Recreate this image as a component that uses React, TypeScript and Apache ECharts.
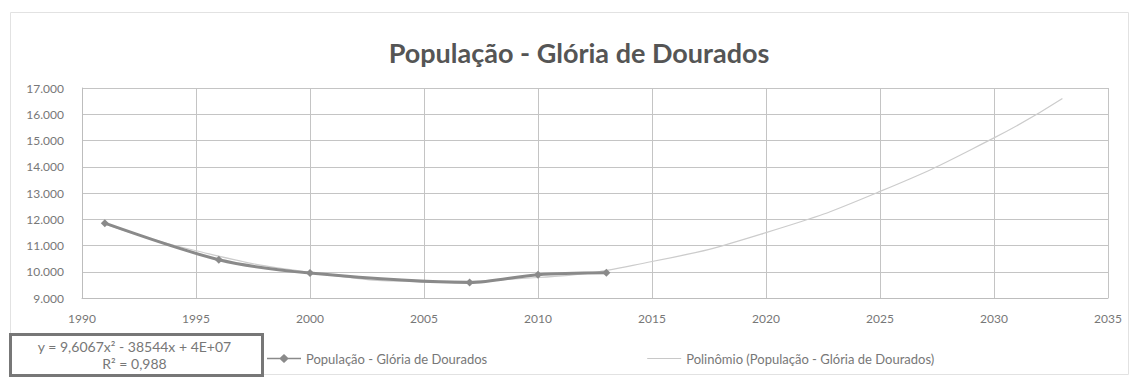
import React, { useEffect, useRef } from "react";
import * as echarts from "echarts";

const title = "População - Glória de Dourados";
const seriesName = "População - Glória de Dourados";
const trendName = "Polinômio (População - Glória de Dourados)";
const years = [1991, 1996, 2000, 2007, 2010, 2013];
const population = [11850, 10460, 9950, 9590, 9890, 9960];
const trendYears = [1991, 1995, 2000, 2005, 2010, 2015, 2020, 2025, 2030, 2033];
const trendValues = [11820, 10800, 9980, 9640, 9780, 10390, 11490, 13060, 15100, 16600];
const equationText = "y = 9,6067x² - 38544x + 4E+07";
const r2Text = "R² = 0,988";

const fmt = (v: number) => {
  const s = String(Math.round(v));
  return s.replace(/\B(?=(\d{3})+(?!\d))/g, ".");
};

export default function App() {
  const ref = useRef<HTMLDivElement>(null);
  useEffect(() => {
    if (!ref.current) return;
    const chart = echarts.init(ref.current, undefined, { renderer: "svg" });
    const font = "Lato, 'Open Sans', sans-serif";
    chart.setOption({
      animation: false,
      backgroundColor: "#ffffff",
      title: {
        text: title,
        left: 574,
        top: 34,
        textAlign: "center",
        textStyle: { fontFamily: font, fontSize: 27, fontWeight: "bold", color: "#555555" },
      },
      grid: { left: 82, right: 26, top: 88, bottom: 80 },
      xAxis: {
        type: "value",
        min: 1990,
        max: 2035,
        interval: 5,
        axisLine: { show: true, lineStyle: { color: "#bdbdbd" } },
        axisTick: { show: false },
        axisLabel: { fontFamily: font, fontSize: 12, color: "#777777", margin: 14, formatter: (v: number) => String(v) },
        splitLine: { show: true, lineStyle: { color: "#c4c4c4", width: 1 } },
      },
      yAxis: {
        type: "value",
        min: 9000,
        max: 17000,
        interval: 1000,
        axisLine: { show: true, lineStyle: { color: "#bdbdbd" } },
        axisTick: { show: false },
        axisLabel: { fontFamily: font, fontSize: 12, color: "#777777", margin: 18, formatter: fmt },
        splitLine: { show: true, lineStyle: { color: "#c4c4c4", width: 1 } },
      },
      legend: {
        left: 262,
        top: 347,
        itemGap: 160,
        itemWidth: 34,
        itemHeight: 10,
        textStyle: { fontFamily: font, fontSize: 13, color: "#777777" },
        data: [
          {
            name: seriesName,
            icon: "path://M0,4.2H13L17,0.5L21,4.2H34V5.8H21L17,9.5L13,5.8H0Z",
            itemStyle: { color: "#8a8a8a" },
          },
          {
            name: trendName,
            icon: "path://M0,4.6H34V5.4H0Z",
            itemStyle: { color: "#c8c8c8" },
          },
        ],
      },
      series: [
        {
          name: trendName,
          type: "line",
          data: trendYears.map((y, i) => [y, trendValues[i]]),
          smooth: 0.5,
          showSymbol: false,
          symbol: "none",
          lineStyle: { color: "#cccccc", width: 1.2 },
          itemStyle: { color: "#cccccc" },
          z: 3,
        },
        {
          name: seriesName,
          type: "line",
          data: years.map((y, i) => [y, population[i]]),
          smooth: 0.3,
          symbol: "diamond",
          symbolSize: 8,
          lineStyle: { color: "#8a8a8a", width: 3 },
          itemStyle: { color: "#8a8a8a" },
          z: 4,
        },
      ],
      graphic: [
        {
          type: "rect",
          left: 8,
          top: 10,
          shape: { width: 1118, height: 362 },
          style: { fill: "none", stroke: "#e2e2e2", lineWidth: 1 },
          silent: true,
        },
        {
          type: "group",
          left: 9,
          top: 333,
          children: [
            {
              type: "rect",
              shape: { x: 0, y: 0, width: 252, height: 41 },
              style: { fill: "#ffffff", stroke: "#777777", lineWidth: 3 },
            },
            {
              type: "text",
              x: 124,
              y: 12,
              style: {
                text: equationText,
                fontFamily: font,
                fontSize: 14,
                fill: "#777777",
                align: "center",
                verticalAlign: "middle",
              },
            },
            {
              type: "text",
              x: 124,
              y: 29,
              style: {
                text: r2Text,
                fontFamily: font,
                fontSize: 14,
                fill: "#777777",
                align: "center",
                verticalAlign: "middle",
              },
            },
          ],
        },
      ],
    });
    return () => chart.dispose();
  }, []);
  return (
    <div
      ref={ref}
      style={{ position: "fixed", left: 0, top: 0, width: 1134, height: 378, background: "#fff" }}
    />
  );
}
